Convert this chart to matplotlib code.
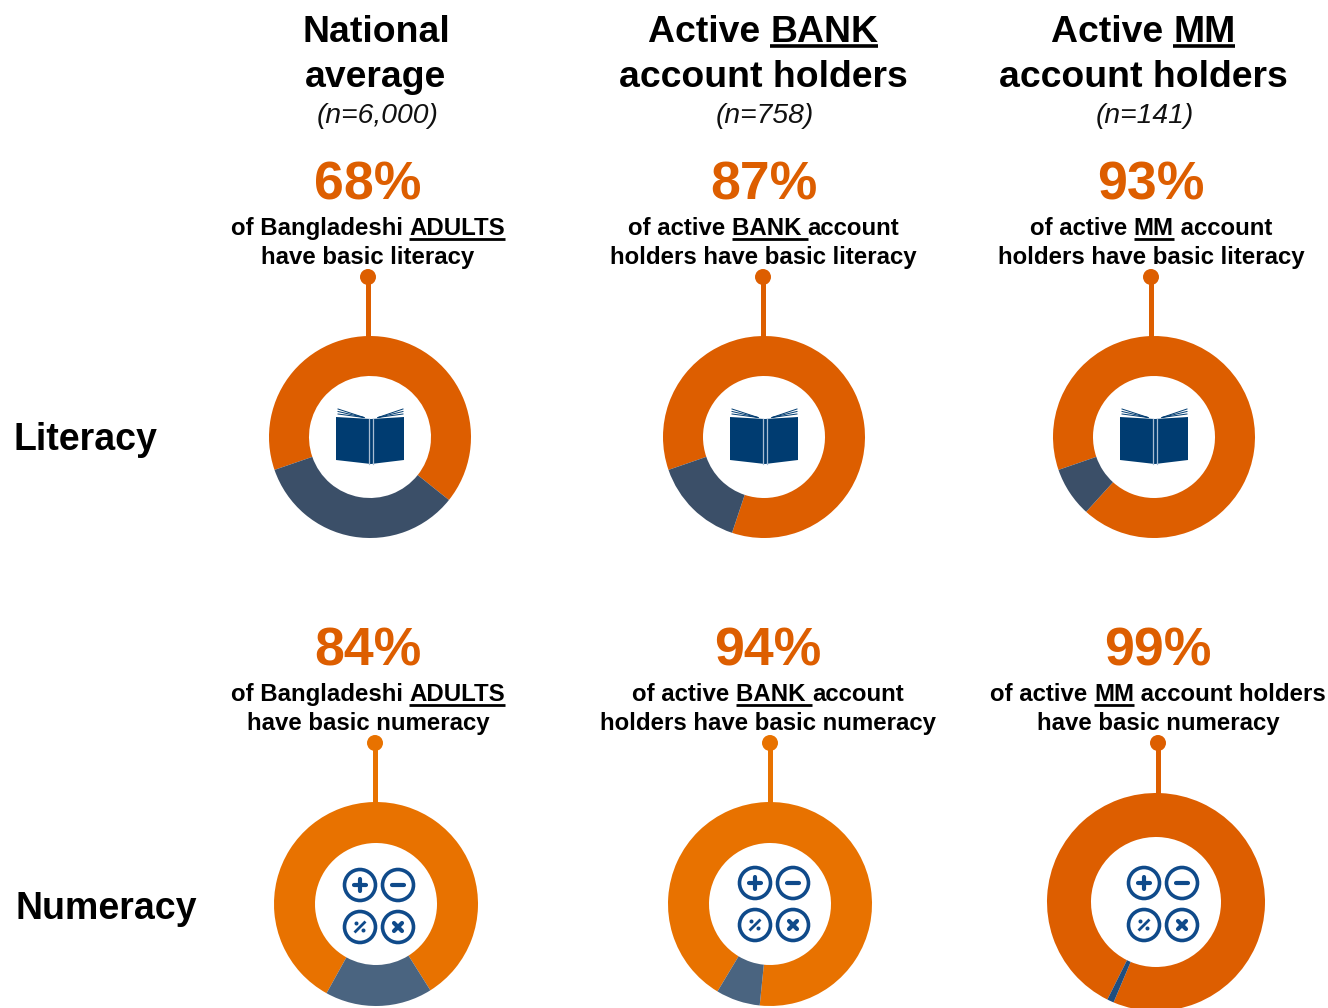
import matplotlib
matplotlib.use('Agg')
import matplotlib.pyplot as plt
from matplotlib.patches import Circle, Polygon

plt.rcParams['font.family'] = ['Liberation Sans', 'DejaVu Sans']

W, H = 1328, 1008

# data
row_names = ['Literacy', 'Numeracy']
literacy_labels = ['68%', '87%', '93%']
numeracy_labels = ['84%', '94%', '99%']
# share of the ring that is orange, as drawn in the picture
literacy_drawn = [66, 85.4, 92]
numeracy_drawn = [83, 93, 99]
sample_sizes = ['(n=6,000)', '(n=758)', '(n=141)']

# layout, in pixels
lit_cx = [370, 764, 1154]
num_cx = [376, 770, 1156]
lit_cy = [437, 437, 437]
num_cy = [904, 904, 902]
lit_r = [101, 101, 101]
num_r = [102, 102, 109]
lit_hole = [61, 61, 61]
num_hole = [61, 61, 65]
lit_gap_angle = [251, 251, 251]
num_gap_angle = [209, 211, 206.5]
lit_text_x = [368, 763.5, 1151]
num_text_x = [368, 768, 1158]
lit_stem_x = [368, 763, 1151]
num_stem_x = [375, 770, 1158]
num_icon_x = [379, 774, 1163]
num_icon_y = [906, 904, 904]

ORANGE = '#DD5E00'
ORANGE2 = '#E87200'
BOOK = '#003C71'
ICON = '#0F4A8A'

fig = plt.figure(figsize=(W / 100, H / 100), dpi=100)
bg = fig.add_axes([0, 0, 1, 1])
bg.set_xlim(0, W)
bg.set_ylim(H, 0)
bg.axis('off')
renderer = fig.canvas.get_renderer()


def piece_width(s, **kw):
    # padded with x so that leading and trailing blanks get counted
    t1 = bg.text(0, 0, 'x' + s + 'x', **kw)
    t2 = bg.text(0, 0, 'xx', **kw)
    w = t1.get_window_extent(renderer).width - t2.get_window_extent(renderer).width
    t1.remove()
    t2.remove()
    return w


def line_text(cx, y, pieces, size, line_w=2.0, under_off=4):
    # pieces = [(text, underlined), ...], centred on cx, y is the baseline
    kw = dict(fontsize=size, fontweight='bold', color='black')
    widths = [piece_width(p[0], **kw) for p in pieces]
    x = cx - sum(widths) / 2
    for (s, under), w in zip(pieces, widths):
        bg.text(x, y, s.replace(' ', '\u00a0'), ha='left', va='baseline', **kw)
        if under:
            bg.plot([x, x + w], [y + under_off, y + under_off], color='black',
                    lw=line_w, solid_capstyle='butt')
        x += w


def donut(cx, cy, r, hole, share, gap_angle, c1, c2):
    ax = fig.add_axes([(cx - r) / W, 1 - (cy + r) / H, 2 * r / W, 2 * r / H])
    # orange starts where the dark part ends and runs clockwise
    ax.pie([share, 100 - share], colors=[c1, c2], startangle=90 - gap_angle,
           counterclock=False, radius=1,
           wedgeprops=dict(width=1 - hole / r, linewidth=0))
    ax.set_xlim(-1, 1)
    ax.set_ylim(-1, 1)
    ax.axis('off')
    ax.patch.set_alpha(0)
    return ax


def stem(x, y0, y1, c):
    bg.plot([x, x], [y0, y1], color=c, lw=3.6, solid_capstyle='butt', zorder=2)
    bg.add_patch(Circle((x, y0), 8, color=c, lw=0, zorder=3))


def book(ax, cx, cy):
    # cx, cy = middle of the ring
    ax.add_patch(Polygon([(cx - 34, cy - 20), (cx + 1, cy - 18), (cx + 34, cy - 20), (cx + 34, cy + 23),
                          (cx + 1, cy + 27), (cx - 34, cy + 23)],
                         color=BOOK, lw=0, zorder=5))
    for dy in [-28, -25.5, -23]:
        ax.plot([cx - 32, cx - 6], [cy + dy, cy - 19.5], color=BOOK, lw=0.7, zorder=5)
        ax.plot([cx + 33, cx + 8], [cy + dy, cy - 19.5], color=BOOK, lw=0.7, zorder=5)
    ax.plot([cx - 1, cx - 1], [cy - 18, cy + 27], color='#A9BDD2', lw=0.9, zorder=6)
    ax.plot([cx + 2.5, cx + 2.5], [cy - 18, cy + 27], color='#A9BDD2', lw=0.9, zorder=6)


def calc(ax, cx, cy):
    dx, dy = 19, 21
    for sx, sy in [(-1, -1), (1, -1), (-1, 1), (1, 1)]:
        ax.add_patch(Circle((cx + sx * dx, cy + sy * dy), 15.5, fc='white', ec=ICON, lw=2.6, zorder=5))
    kw = dict(color=ICON, lw=3, solid_capstyle='round', zorder=6)
    x, y = cx - dx, cy - dy
    ax.plot([x - 6, x + 6], [y, y], **kw)
    ax.plot([x, x], [y - 6, y + 6], **kw)
    x, y = cx + dx, cy - dy
    ax.plot([x - 6, x + 6], [y, y], **kw)
    x, y = cx + dx, cy + dy
    ax.plot([x - 4, x + 4], [y - 4, y + 4], **kw)
    ax.plot([x - 4, x + 4], [y + 4, y - 4], **kw)
    x, y = cx - dx, cy + dy
    ax.plot([x - 4.5, x + 4.5], [y + 4.5, y - 4.5], color=ICON, lw=2, zorder=6)
    ax.add_patch(Circle((x - 3.5, y - 3.5), 2, color=ICON, lw=0, zorder=6))
    ax.add_patch(Circle((x + 3.5, y + 3.5), 2, color=ICON, lw=0, zorder=6))


# column headers
line_text(376, 42, [('National', False)], 26.9, 2.6, 4)
line_text(376, 87, [('average', False)], 26.9)
line_text(763, 42, [('Active ', False), ('BANK', True)], 26.9, 2.6, 4)
line_text(763, 87, [('account holders', False)], 26.9)
line_text(1143, 42, [('Active ', False), ('MM', True)], 26.9, 2.6, 4)
line_text(1143, 87, [('account holders', False)], 26.9)
for x, s in zip([378, 764.5, 1145], sample_sizes):
    bg.text(x, 123, s, ha='center', va='baseline', fontsize=20.3, style='italic', color='#111111')

# row names
bg.text(14, 450, row_names[0], ha='left', va='baseline', fontsize=27, fontweight='bold')
bg.text(16, 919, row_names[1], ha='left', va='baseline', fontsize=27, fontweight='bold')

# big percentages
for x, s in zip(lit_text_x, literacy_labels):
    bg.text(x, 200, s, ha='center', va='baseline', fontsize=38.6, fontweight='bold', color=ORANGE)
for x, s in zip(num_text_x, numeracy_labels):
    bg.text(x, 666, s, ha='center', va='baseline', fontsize=38.6, fontweight='bold', color=ORANGE)

# captions
SMALL = 17.3
line_text(lit_text_x[0], 235, [('of Bangladeshi ', False), ('ADULTS', True)], SMALL)
line_text(lit_text_x[0], 264, [('have basic literacy', False)], SMALL)
line_text(lit_text_x[1], 235, [('of active ', False), ('BANK ', True), ('account', False)], SMALL)
line_text(lit_text_x[1], 264, [('holders have basic literacy', False)], SMALL)
line_text(lit_text_x[2], 235, [('of active ', False), ('MM', True), (' account', False)], SMALL)
line_text(lit_text_x[2], 264, [('holders have basic literacy', False)], SMALL)
line_text(num_text_x[0], 701, [('of Bangladeshi ', False), ('ADULTS', True)], SMALL)
line_text(num_text_x[0], 730, [('have basic numeracy', False)], SMALL)
line_text(num_text_x[1], 701, [('of active ', False), ('BANK ', True), ('account', False)], SMALL)
line_text(num_text_x[1], 730, [('holders have basic numeracy', False)], SMALL)
line_text(num_text_x[2], 701, [('of active ', False), ('MM', True), (' account holders', False)], SMALL)
line_text(num_text_x[2], 730, [('have basic numeracy', False)], SMALL)

# literacy row
for i in range(3):
    stem(lit_stem_x[i], 277, lit_cy[i] - lit_r[i] + 1, ORANGE)
    donut(lit_cx[i], lit_cy[i], lit_r[i], lit_hole[i], literacy_drawn[i], lit_gap_angle[i], ORANGE, '#3B4F68')

# numeracy row
num_orange = [ORANGE2, ORANGE2, ORANGE]
num_dark = ['#4A6480', '#4A6480', '#1F4E80']
for i in range(3):
    stem(num_stem_x[i], 743, num_cy[i] - num_r[i] + 1, num_orange[i])
    donut(num_cx[i], num_cy[i], num_r[i], num_hole[i], numeracy_drawn[i], num_gap_angle[i], num_orange[i], num_dark[i])

# icons go on a clear axes above the rings
top = fig.add_axes([0, 0, 1, 1], zorder=10)
top.set_xlim(0, W)
top.set_ylim(H, 0)
top.axis('off')
top.patch.set_alpha(0)
for i in range(3):
    book(top, lit_cx[i], lit_cy[i])
    calc(top, num_icon_x[i], num_icon_y[i])

fig.savefig('out.png', dpi=100)
